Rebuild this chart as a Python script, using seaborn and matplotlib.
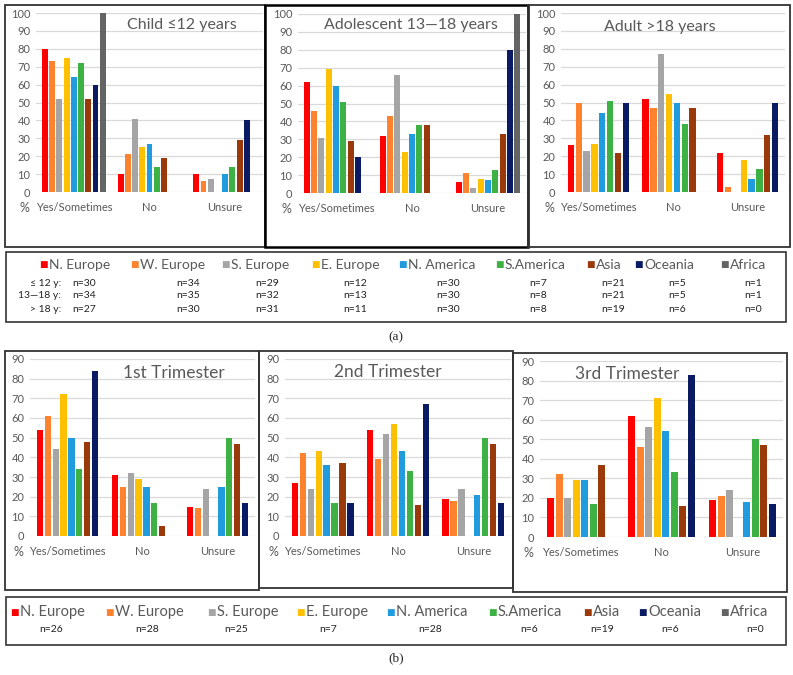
import numpy as np
import pandas as pd
import seaborn as sns
import matplotlib.pyplot as plt
from matplotlib.patches import Rectangle

# regions and colours
regions = ['N. Europe', 'W. Europe', 'S. Europe', 'E. Europe', 'N. America',
           'S.America', 'Asia', 'Oceania', 'Africa']
colors = ['#FF0000', '#FF822E', '#A5A5A5', '#FFC000', '#1F9BDE',
          '#3DB143', '#9A3A0A', '#0A1A63', '#646464']
responses = ['Yes/Sometimes', 'No', 'Unsure']

# (a) age groups
child_yes = [80, 73, 52, 75, 64, 72, 52, 60, 100]
child_no = [10, 21, 41, 25, 27, 14, 19, 0, 0]
child_unsure = [10, 6, 7, 0, 10, 14, 29, 40, 0]

adol_yes = [62, 46, 31, 69, 60, 51, 29, 20, 0]
adol_no = [32, 43, 66, 23, 33, 38, 38, 0, 0]
adol_unsure = [6, 11, 3, 8, 7, 13, 33, 80, 100]

adult_yes = [26, 50, 23, 27, 44, 51, 22, 50]
adult_no = [52, 47, 77, 55, 50, 38, 47, 0]
adult_unsure = [22, 3, 0, 18, 7, 13, 32, 50]

n_child = ['n=30', 'n=34', 'n=29', 'n=12', 'n=30', 'n=7', 'n=21', 'n=5', 'n=1']
n_adol = ['n=34', 'n=35', 'n=32', 'n=13', 'n=30', 'n=8', 'n=21', 'n=5', 'n=1']
n_adult = ['n=27', 'n=30', 'n=31', 'n=11', 'n=30', 'n=8', 'n=19', 'n=6', 'n=0']

# (b) trimesters
tri1_yes = [54, 61, 44, 72, 50, 34, 48, 84]
tri1_no = [31, 25, 32, 29, 25, 17, 5, 0]
tri1_unsure = [15, 14, 24, 0, 25, 50, 47, 17]

tri2_yes = [27, 42, 24, 43, 36, 17, 37, 17]
tri2_no = [54, 39, 52, 57, 43, 33, 16, 67]
tri2_unsure = [19, 18, 24, 0, 21, 50, 47, 17]

tri3_yes = [20, 32, 20, 29, 29, 17, 37, 0]
tri3_no = [62, 46, 56, 71, 54, 33, 16, 83]
tri3_unsure = [19, 21, 24, 0, 18, 50, 47, 17]

n_preg = ['n=26', 'n=28', 'n=25', 'n=7', 'n=28', 'n=6', 'n=19', 'n=6', 'n=0']

palette = dict(zip(regions, colors))
GRAY = '#595959'

sns.set_style('white')
plt.rcParams['font.family'] = ['Lato', 'DejaVu Sans']

W, H = 793, 675
fig = plt.figure(figsize=(W / 100, H / 100), dpi=100)


def fx(x):
    return x / W


def fy(y):
    return 1 - y / H


def box(x0, y0, x1, y1, lw=1.2, color='#333333'):
    fig.patches.append(Rectangle((fx(x0), fy(y1)), fx(x1) - fx(x0), fy(y0) - fy(y1),
                                 transform=fig.transFigure, fill=False,
                                 edgecolor=color, linewidth=lw))


def panel(left, top, right, bottom, yes, no, unsure, ymax, title, tx, ty,
          width=0.86, gap=0.18, tsize=11.5):
    ax = fig.add_axes([fx(left), fy(bottom), fx(right) - fx(left), fy(top) - fy(bottom)])
    hues = regions[:len(yes)]
    rows = []
    for resp, vals in zip(responses, [yes, no, unsure]):
        for reg, v in zip(hues, vals):
            rows.append({'response': resp, 'region': reg, 'pct': v})
    df = pd.DataFrame(rows)
    sns.barplot(data=df, x='response', y='pct', hue='region', order=responses,
                hue_order=hues, palette=palette, saturation=1, width=width, gap=gap,
                linewidth=0, legend=False, errorbar=None, ax=ax)
    ax.set_ylim(0, ymax)
    ax.set_yticks(range(0, ymax + 1, 10))
    ax.set_xlabel('')
    ax.set_ylabel('')
    ax.set_axisbelow(True)
    ax.yaxis.grid(True, color='#D9D9D9', linewidth=0.9)
    for s in ax.spines.values():
        s.set_visible(False)
    ax.tick_params(axis='both', length=0, colors=GRAY, labelsize=8)
    ax.tick_params(axis='x', pad=7)
    ax.tick_params(axis='y', pad=4)
    ax.set_xlim(-0.5, 2.5)
    fig.text(fx(tx), fy(ty), title, ha='center', va='center', fontsize=tsize, color=GRAY)
    fig.text(fx(left - 12), fy(bottom + 16), '%', ha='center', va='center',
             fontsize=9, color=GRAY)
    return ax


# (a) panels
panel(36, 13, 263, 192, child_yes, child_no, child_unsure, 100,
      'Child \u226412 years', 182, 25)
panel(298, 14, 526, 193, adol_yes, adol_no, adol_unsure, 100,
      'Adolescent 13\u201418 years', 411, 25)
panel(561, 13, 785, 192, adult_yes, adult_no, adult_unsure, 100,
      'Adult >18 years', 660, 27, width=0.84, gap=0.2)

box(5, 5, 265, 247, lw=1.3)
box(265, 5, 528, 247, lw=1.8, color='black')
box(528, 5, 790, 247, lw=1.3)

# legend (a)
box(6, 252, 786, 322, lw=1.2)
leg_a_x = [43, 134, 225, 315, 402, 499, 590, 638, 724]
for x, reg, c in zip(leg_a_x, regions, colors):
    fig.text(fx(x), fy(265), '\u25A0', color=c, fontsize=6.5, ha='center', va='center',
             family='DejaVu Sans')
    fig.text(fx(x + 6), fy(265), reg, color=GRAY, fontsize=10, ha='left', va='center')
n_x = [84, 188, 267, 355, 448, 538, 613, 677, 753]
for y, lab, ns in zip([283, 296, 309], ['\u2264 12 y:', '13\u201418 y:', '> 18 y:'],
                      [n_child, n_adol, n_adult]):
    fig.text(fx(61), fy(y), lab, color='#222222', fontsize=7.5, ha='right', va='center')
    for x, n in zip(n_x, ns):
        fig.text(fx(x), fy(y), n, color='#222222', fontsize=7.5, ha='center', va='center')

fig.text(fx(396), fy(337), '(a)', ha='center', va='center', fontsize=9.5,
         family='Liberation Serif')

# (b) panels
panel(30, 359, 255, 536, tri1_yes, tri1_no, tri1_unsure, 90,
      '1st Trimester', 174, 373, width=0.84, gap=0.2, tsize=12.5)
panel(285, 359, 511, 536, tri2_yes, tri2_no, tri2_unsure, 90,
      '2nd Trimester', 388, 372, width=0.84, gap=0.2, tsize=12.5)
panel(540, 361, 783, 537, tri3_yes, tri3_no, tri3_unsure, 90,
      '3rd Trimester', 627, 374, width=0.84, gap=0.2, tsize=12.5)

box(5, 351, 259, 590, lw=1.3)
box(259, 351, 513, 588, lw=1.3)
box(513, 353, 787, 592, lw=1.3)

# legend (b)
box(6, 597, 786, 645, lw=1.2)
leg_b_x = [14, 109, 211, 300, 390, 492, 587, 642, 724]
for x, reg, c in zip(leg_b_x, regions, colors):
    fig.text(fx(x), fy(612), '\u25A0', color=c, fontsize=6.5, ha='center', va='center',
             family='DejaVu Sans')
    fig.text(fx(x + 6), fy(612), reg, color=GRAY, fontsize=10.5, ha='left', va='center')
nb_x = [51, 147, 236, 328, 430, 529, 602, 670, 755]
for x, n in zip(nb_x, n_preg):
    fig.text(fx(x), fy(629), n, color='#222222', fontsize=7.5, ha='center', va='center')

fig.text(fx(396), fy(658), '(b)', ha='center', va='center', fontsize=9.5,
         family='Liberation Serif')

fig.savefig('out.png', dpi=100)
